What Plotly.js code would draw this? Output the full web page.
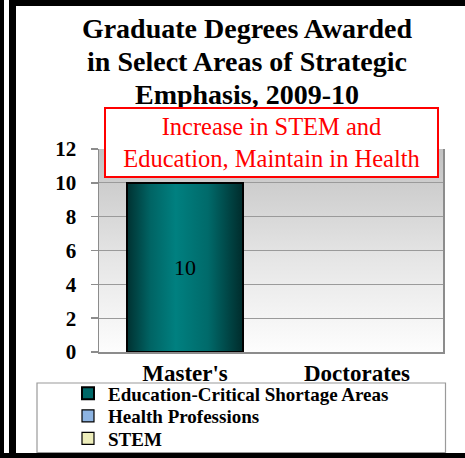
<!DOCTYPE html>
<html><head><meta charset="utf-8">
<script src="https://cdn.plot.ly/plotly-3.0.1.min.js"></script>
<style>
body{margin:0;background:#fff}
#wrap{position:relative;width:465px;height:458px;overflow:hidden;background:#fff}
#chart{position:absolute;left:0;top:0;width:465px;height:480px}
.blk{position:absolute;background:#000}
</style></head>
<body><div id="wrap">
<div id="chart"></div>
<div class="blk" style="left:0;top:0;width:4px;height:458px"></div>
<div class="blk" style="left:9px;top:0;width:7px;height:458px"></div>
<div class="blk" style="left:9px;top:0;width:456px;height:6px"></div>
<div class="blk" style="left:0;top:453px;width:465px;height:5px"></div>
</div>
<script>
const categories = ["Master's", "Doctorates"];
const seriesNames = ["Education-Critical Shortage Areas", "Health Professions", "STEM"];
const educationValues = [10, null];
const healthValues = [null, null];
const stemValues = [null, null];
const yTickVals = [0, 2, 4, 6, 8, 10, 12];
const titleLines = ["Graduate Degrees Awarded", "in Select Areas of Strategic", "Emphasis, 2009-10"];
const noteText = "Increase in STEM and<br>Education, Maintain in Health";

const serif = "Liberation Serif, Times New Roman, serif";
const colors = ["#006868", "#8db4e2", "#eeeebb"];
const values = [educationValues, healthValues, stemValues];
const legendIds = ["legend", "legend2", "legend3"];

const traces = seriesNames.map((name, i) => ({
  type: "bar",
  name: name,
  legend: legendIds[i],
  x: categories,
  y: values[i],
  marker: {color: colors[i], line: {color: "#000", width: i === 0 ? 2 : 1.2}},
  texttemplate: i === 0 ? "%{y}" : "",
  textposition: i === 0 ? "inside" : "none",
  insidetextanchor: "middle",
  insidetextfont: {family: serif, size: 22, color: "#000"},
  hoverinfo: "none"
}));

// paper is taller than the visible window so the legends never push the margins
const W = 465, H = 480;
const L = 99, R = 443, T = 149, B = 352;
const fx = v => v / W;
const fy = v => 1 - v / H;

const legendTops = [374.5, 397, 419.5];
const legendBase = {
  orientation: "v", traceorder: "normal",
  x: fx(68), xanchor: "left", yanchor: "top",
  bgcolor: "rgba(0,0,0,0)", borderwidth: 0,
  font: {family: serif, size: 19, weight: "bold", color: "#000"},
  itemclick: false, itemdoubleclick: false
};

const layout = {
  width: W, height: H,
  margin: {l: 0, r: 0, t: 0, b: 0, pad: 0},
  paper_bgcolor: "rgba(0,0,0,0)",
  plot_bgcolor: "#e0e0e0",
  barmode: "stack",
  bargap: 0.33,
  showlegend: true,
  title: {
    text: titleLines.map(s => "<span style='font-size:28px'>" + s + "</span>").join("<br>"),
    font: {family: serif, size: 25.5, weight: "bold", color: "#000"},
    xref: "container", x: 247 / W, xanchor: "center",
    yref: "container", y: fy(38), yanchor: "top",
    automargin: false
  },
  xaxis: {
    type: "category", domain: [fx(L), fx(R)],
    showline: true, linecolor: "#8c8c8c", linewidth: 1.5,
    ticks: "", tickangle: 0,
    tickfont: {family: serif, size: 23, weight: "bold", color: "#000"},
    showgrid: false, zeroline: false, fixedrange: true, automargin: false
  },
  yaxis: {
    range: [0, 12], tickvals: yTickVals, domain: [fy(B), fy(T)],
    showline: true, mirror: true, linecolor: "#8c8c8c", linewidth: 1.5,
    ticks: "outside", ticklen: 7, tickcolor: "#8c8c8c", tickwidth: 1.5,
    ticklabelstandoff: 10,
    tickfont: {family: serif, size: 21, weight: "bold", color: "#000"},
    showgrid: true, gridcolor: "#9a9a9a", gridwidth: 1.2,
    zeroline: false, fixedrange: true, automargin: false
  },
  shapes: [{
    type: "rect", xref: "paper", yref: "paper",
    x0: fx(37), x1: fx(445.5), y0: fy(452.5), y1: fy(383),
    line: {color: "#9a9a9a", width: 1.2}, fillcolor: "rgba(0,0,0,0)", layer: "below"
  }],
  annotations: [{
    text: noteText, showarrow: false,
    xref: "paper", yref: "paper",
    x: fx(271.5), y: fy(142.5), xanchor: "center", yanchor: "middle",
    width: 331, height: 67,
    font: {family: serif, size: 24.5, color: "#ff0000"},
    bgcolor: "#ffffff", bordercolor: "#ff0000", borderwidth: 2, borderpad: 0,
    align: "center", valign: "middle"
  }]
};
legendIds.forEach((id, i) => { layout[id] = Object.assign({}, legendBase, {y: fy(legendTops[i])}); });

Plotly.newPlot("chart", traces, layout, {displayModeBar: false, staticPlot: true}).then(gd => {
  const svg = gd.querySelector("svg.main-svg");
  const NS = "http://www.w3.org/2000/svg";
  const defs = document.createElementNS(NS, "defs");
  defs.innerHTML =
    '<linearGradient id="bgGrad" x1="0" y1="0" x2="0" y2="1">' +
    '<stop offset="0" stop-color="#c2c2c2"/><stop offset="0.55" stop-color="#e6e6e6"/>' +
    '<stop offset="1" stop-color="#fdfdfd"/></linearGradient>' +
    '<linearGradient id="barGrad" x1="0" y1="0" x2="1" y2="0">' +
    '<stop offset="0" stop-color="#003232"/><stop offset="0.2" stop-color="#006464"/>' +
    '<stop offset="0.42" stop-color="#008080"/><stop offset="0.7" stop-color="#006a6a"/>' +
    '<stop offset="1" stop-color="#002c2c"/></linearGradient>';
  svg.insertBefore(defs, svg.firstChild);
  const bg = gd.querySelector(".bglayer rect.bg");
  if (bg) bg.style.fill = "url(#bgGrad)";
  const firstTrace = gd.querySelectorAll(".barlayer .trace")[0];
  if (firstTrace) firstTrace.querySelectorAll("path").forEach(p => { p.style.fill = "url(#barGrad)"; });
});
</script>
</body></html>
